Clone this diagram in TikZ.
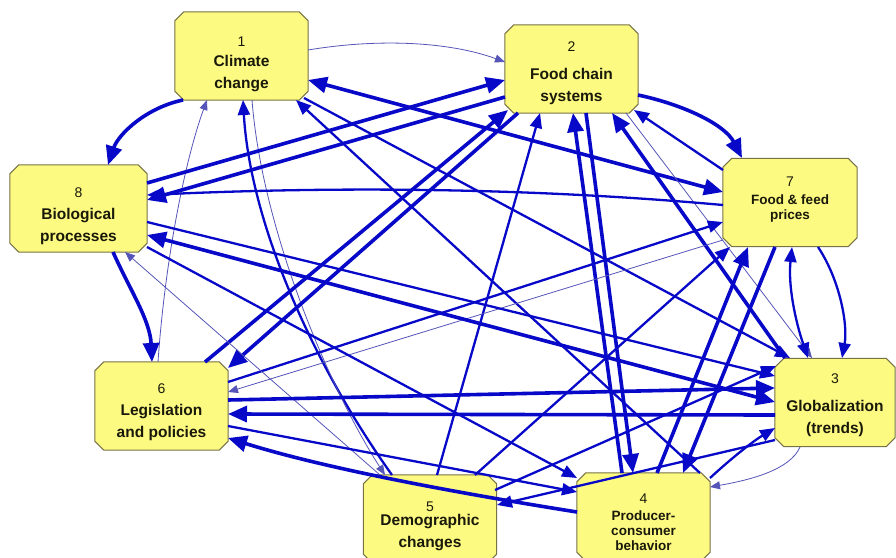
\documentclass[tikz,border=0pt]{standalone}
\usepackage{fontspec}
\setmainfont{Liberation Sans}
\usetikzlibrary{arrows.meta}
\definecolor{boxfill}{RGB}{253,250,130}
\definecolor{boxline}{RGB}{120,115,70}
\definecolor{eblue}{RGB}{8,8,200}
\definecolor{tblue}{RGB}{85,85,185}
\definecolor{txt}{RGB}{25,25,10}
\newcommand\chbox[1]{\filldraw[boxst] ([xshift=9pt]#1.north west) -- ([xshift=-9pt]#1.north east) -- ([yshift=-9pt]#1.north east) -- ([yshift=9pt]#1.south east) -- ([xshift=-9pt]#1.south east) -- ([xshift=9pt]#1.south west) -- ([yshift=9pt]#1.south west) -- ([yshift=-9pt]#1.north west) -- cycle;}
\begin{document}
\begin{tikzpicture}[x=1pt,y=-1pt,
  box/.style={rectangle, draw=none, inner sep=0pt, minimum width=133pt, minimum height=88pt},
  boxst/.style={draw=boxline, fill=boxfill, line width=1pt},
  num/.style={font=\fontsize{14}{16}\selectfont, inner sep=0pt, text=txt},
  lab/.style={font=\fontsize{15.5}{22}\selectfont\bfseries, align=center, inner sep=0pt, text=txt},
  labs/.style={font=\fontsize{13.5}{15.2}\selectfont\bfseries, align=center, inner sep=0pt, text=txt},
  tk/.style={draw=eblue, line width=3.6pt, -{Triangle[length=19pt,width=16pt]}},
  tkb/.style={draw=eblue, line width=3.6pt, {Triangle[length=19pt,width=16pt]}-{Triangle[length=19pt,width=16pt]}},
  md/.style={draw=eblue, line width=2.3pt, -{Triangle[length=15pt,width=12pt]}},
  mdb/.style={draw=eblue, line width=2.3pt, {Triangle[length=15pt,width=12pt]}-{Triangle[length=15pt,width=12pt]}},
  tn/.style={draw=tblue, line width=0.8pt, -{Triangle[length=10pt,width=8pt]}}
]
\useasboundingbox (0,0) rectangle (896,557);
\fill[white] (0,0) rectangle (896,557);

% boxes (named placeholders, then chamfered outlines)
\node[box] (n1) at (241.5,56) {};
\node[box] (n2) at (571.5,69) {};
\node[box, minimum width=134pt] (n7) at (790,202.5) {};
\node[box, minimum width=137pt, minimum height=87pt] (n8) at (78.5,208.5) {};
\node[box] (n6) at (161.5,406) {};
\node[box, minimum width=120pt] (n3) at (835,402.5) {};
\node[box] (n5) at (430,519) {};
\node[box] (n4) at (643.5,517) {};
\chbox{n1}\chbox{n2}\chbox{n7}\chbox{n8}\chbox{n6}\chbox{n3}\chbox{n5}\chbox{n4}

% texts
\node[num] (t1n) at (241.5,42) {1};
\node[lab] (t1) at (241.5,74) {Climate\\change};
\node[num] (t2n) at (571.5,47) {2};
\node[lab] (t2) at (571.5,86) {Food chain\\systems};
\node[num] (t7n) at (790,182) {7};
\node[labs] (t7) at (790,208.5) {Food \& feed\\prices};
\node[num] (t8n) at (78.5,193) {8};
\node[lab] (t8) at (78.5,226) {Biological\\processes};
\node[num] (t6n) at (161.5,389) {6};
\node[lab] (t6) at (161.5,422) {Legislation\\and policies};
\node[num] (t3n) at (835,379) {3};
\node[lab] (t3) at (835,418.5) {Globalization\\(trends)};
\node[num] (t5n) at (430,507) {5};
\node[lab] (t5) at (430,532.5) {Demographic\\changes};
\node[num] (t4n) at (643.5,499) {4};
\node[labs] (t4) at (643.5,530.5) {Producer-\\consumer\\behavior};

% connectors
% from / to 1
\draw[tn] ([shift={(66.5,-6)}]n1.center) .. controls (380,38) and (450,42) .. ([shift={(-66.5,-7)}]n2.center);
\draw[tk] ([shift={(-58.5,44)}]n1.center) .. controls (145,108) and (118,135) .. ([shift={(29.5,-43.5)}]n8.center);
\draw[tkb] ([shift={(66.5,24)}]n1.center) -- ([shift={(-67,-10.5)}]n7.center);
\draw[md] ([shift={(62.5,42)}]n1.center) -- ([shift={(-45,-44.5)}]n3.center);
\draw[tn] ([shift={(-3.5,-44)}]n6.center) .. controls (165,260) and (185,160) .. ([shift={(-34.5,44)}]n1.center);
\draw[md] ([shift={(-38,-44)}]n5.center) .. controls (310,360) and (250,220) .. ([shift={(1.5,44)}]n1.center);
\draw[tn] ([shift={(10.5,44)}]n1.center) .. controls (262,230) and (330,390) .. ([shift={(-45,-44)}]n5.center);
\draw[md] ([shift={(56.5,-44)}]n4.center) -- ([shift={(54.5,44)}]n1.center);
% from / to 2
\draw[tk] ([shift={(68.5,-25.5)}]n8.center) -- ([shift={(-66.5,11)}]n2.center);
\draw[tk] ([shift={(-66.5,28)}]n2.center) -- ([shift={(68.5,-8.5)}]n8.center);
\draw[tk] ([shift={(43.5,-44)}]n6.center) -- ([shift={(-63.5,41)}]n2.center);
\draw[tk] ([shift={(-53.5,44)}]n2.center) -- ([shift={(66.5,-38)}]n6.center);
\draw[md] ([shift={(7,-44)}]n5.center) -- ([shift={(-31.5,44)}]n2.center);
\draw[tk] ([shift={(-21.5,-44)}]n4.center) -- ([shift={(1.5,44)}]n2.center);
\draw[tk] ([shift={(14.5,44)}]n2.center) -- ([shift={(-10.5,-44)}]n4.center);
\draw[tk] ([shift={(-50,-44.5)}]n3.center) -- ([shift={(40.5,44)}]n2.center);
\draw[md] ([shift={(-67,-32.5)}]n7.center) -- ([shift={(62.5,41)}]n2.center);
\draw[tk] ([shift={(66.5,26)}]n2.center) .. controls (685,105) and (725,125) .. ([shift={(-48,-44.5)}]n7.center);
\draw[tn] ([shift={(54.5,44)}]n2.center) -- ([shift={(-23,-44.5)}]n3.center);
% from / to 7
\draw[md] ([shift={(-67,2.5)}]n7.center) .. controls (500,185) and (300,188) .. ([shift={(68.5,-13.5)}]n8.center);
\draw[md] ([shift={(66.5,-24)}]n6.center) -- ([shift={(-67,19.5)}]n7.center);
\draw[tn] ([shift={(-67,37.5)}]n7.center) -- ([shift={(66.5,-14)}]n6.center);
\draw[md] ([shift={(28,44.5)}]n7.center) .. controls (840,280) and (848,325) .. ([shift={(7,-44.5)}]n3.center);
\draw[mdb] ([shift={(-27,-44.5)}]n3.center) .. controls (795,320) and (788,285) .. ([shift={(2,44.5)}]n7.center);
\draw[tk] ([shift={(13.5,-44)}]n4.center) -- ([shift={(-42,44.5)}]n7.center);
\draw[tk] ([shift={(-15,44.5)}]n7.center) -- ([shift={(39.5,-44)}]n4.center);
\draw[md] ([shift={(45,-44)}]n5.center) -- ([shift={(-60,44.5)}]n7.center);
% from / to 8
\draw[tk] ([shift={(34.5,43.5)}]n8.center) .. controls (130,290) and (150,320) .. ([shift={(-9.5,-44)}]n6.center);
\draw[tn] ([shift={(-50,-44)}]n5.center) -- ([shift={(46.5,43.5)}]n8.center);
\draw[tkb] ([shift={(68.5,26.5)}]n8.center) -- ([shift={(-60,-0.5)}]n3.center);
\draw[md] ([shift={(68.5,38.5)}]n8.center) -- ([shift={(-66.5,-39)}]n4.center);
\draw[md] ([shift={(68.5,13.5)}]n8.center) -- ([shift={(-60,-26.5)}]n3.center);
% from / to 6
\draw[tk] ([shift={(66.5,-6)}]n6.center) -- ([shift={(-60,-14.5)}]n3.center);
\draw[tk] ([shift={(-60,12.5)}]n3.center) -- ([shift={(66.5,8)}]n6.center);
\draw[tk] ([shift={(-66.5,-5)}]n4.center) .. controls (470,495) and (330,470) .. ([shift={(66.5,32)}]n6.center);
\draw[md] ([shift={(66.5,20)}]n6.center) -- ([shift={(-66.5,-25)}]n4.center);
% from / to 3, 4, 5
\draw[md] ([shift={(65,-29)}]n5.center) -- ([shift={(-59,-36.5)}]n3.center);
\draw[md] ([shift={(-60,37.5)}]n3.center) -- ([shift={(67,-14)}]n5.center);
\draw[tn] ([shift={(-35,44.5)}]n3.center) .. controls (790,470) and (750,480) .. ([shift={(66.5,-30)}]n4.center);
\draw[md] ([shift={(66.5,-39)}]n4.center) .. controls (735,455) and (755,440) .. ([shift={(-60,25.5)}]n3.center);
\end{tikzpicture}
\end{document}
